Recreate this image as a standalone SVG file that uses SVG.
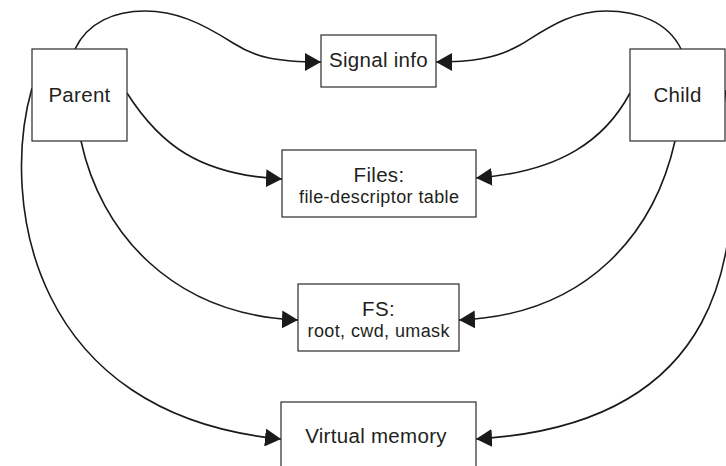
<svg xmlns="http://www.w3.org/2000/svg" width="726" height="466" viewBox="0 0 726 466">
  <style>
    .box { fill: #ffffff; stroke: #2a2a2a; stroke-width: 1.2; }
    .t { font-family: "Liberation Sans", Arial, Helvetica, sans-serif; font-size: 20.5px; letter-spacing: 0.3px; fill: #231f20; text-anchor: middle; }
    .s { font-family: "Liberation Sans", Arial, Helvetica, sans-serif; font-size: 18px; fill: #231f20; text-anchor: middle; }
    .c { fill: none; stroke: #1a1a1a; stroke-width: 1.6; marker-end: url(#arrow); }
  </style>
  <defs>
    <marker id="arrow" markerUnits="userSpaceOnUse" markerWidth="16" markerHeight="18" viewBox="0 0 16 18" refX="16" refY="9" orient="auto">
      <path d="M0,0 L16,9 L0,18 Z" fill="#1a1a1a"/>
    </marker>
  </defs>

  <g id="connectors">
    <path class="c" d="M75,49 C88,22 115,11 145,11 C175,11 200,22 233,43 C255,57 275,62 321,62"/>
    <path class="c" d="M681,49 C668,22 638,11 606,11 C570,11 545,30 520,45 C495,59 470,62 436,62"/>
    <path class="c" d="M127,93 C160,145 200,175 282,179"/>
    <path class="c" d="M630,93 C605,140 560,172 476,178"/>
    <path class="c" d="M81,141 C100,230 170,315 298,320"/>
    <path class="c" d="M675,141 C655,230 590,315 459,320"/>
    <path class="c" d="M32,88 C0,200 30,415 281,439"/>
    <path class="c" d="M725,90 C750,260 720,425 476,439"/>
  </g>

  <g id="parent">
    <rect class="box" x="32" y="49" width="95" height="92"/>
    <text class="t" x="79.5" y="102">Parent</text>
  </g>

  <g id="child">
    <rect class="box" x="630" y="49" width="95" height="92"/>
    <text class="t" x="677.5" y="102">Child</text>
  </g>

  <g id="signal-info">
    <rect class="box" x="321" y="35" width="115" height="52"/>
    <text class="t" x="378.5" y="67">Signal info</text>
  </g>

  <g id="files">
    <rect class="box" x="282" y="150" width="194" height="67"/>
    <text class="t" x="379" y="182">Files:</text>
    <text class="s" x="379" y="203" textLength="160" lengthAdjust="spacing">file-descriptor table</text>
  </g>

  <g id="fs">
    <rect class="box" x="298" y="284" width="161" height="67"/>
    <text class="t" x="378.5" y="316">FS:</text>
    <text class="s" x="378.5" y="337" textLength="142" lengthAdjust="spacing">root, cwd, umask</text>
  </g>

  <g id="virtual-memory">
    <rect class="box" x="281" y="402" width="195" height="72"/>
    <text class="t" x="376" y="443">Virtual memory</text>
  </g>
</svg>
